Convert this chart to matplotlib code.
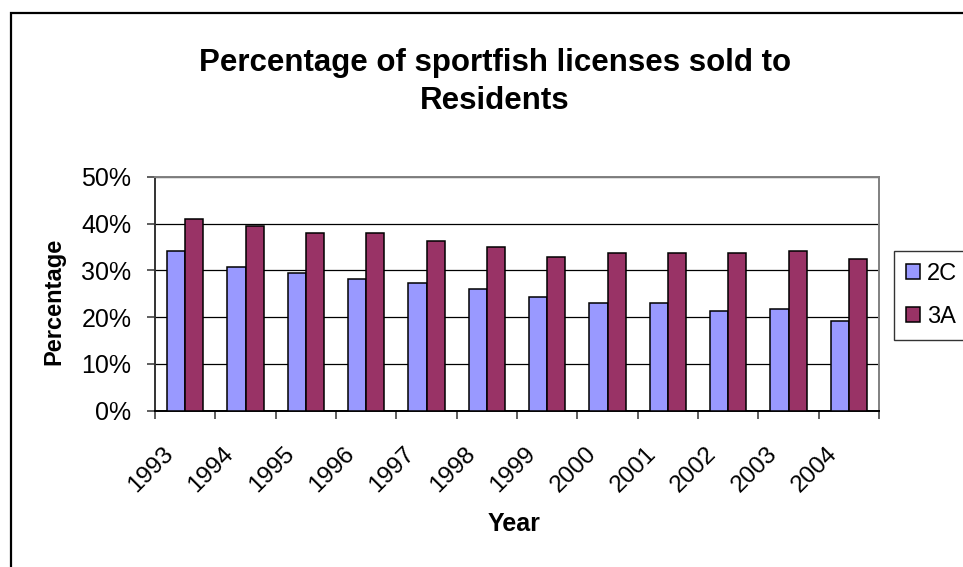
import numpy as np
import matplotlib
matplotlib.use('Agg')
import matplotlib.pyplot as plt
import matplotlib.transforms as mtrans
from matplotlib.patches import Rectangle

# Data
years = ['1993', '1994', '1995', '1996', '1997', '1998',
         '1999', '2000', '2001', '2002', '2003', '2004']
pct_2C = [34.2, 30.7, 29.4, 28.2, 27.3, 26.0, 24.3, 23.0, 23.0, 21.3, 21.7, 19.1]
pct_3A = [40.9, 39.6, 38.0, 38.0, 36.3, 35.0, 32.8, 33.7, 33.7, 33.7, 34.2, 32.4]

plt.rcParams['font.family'] = ['Liberation Sans', 'DejaVu Sans']

W, H = 963, 567
fig = plt.figure(figsize=(W / 100, H / 100), dpi=100)

# plot area in pixel coords -> figure fraction
left, right, top, bottom = 155, 879, 177, 410.5
ax = fig.add_axes([left / W, 1 - bottom / H, (right - left) / W, (bottom - top) / H])

x = np.arange(len(years))
bw = 0.3
ax.bar(x - bw / 2, pct_2C, bw, color='#9999FF', edgecolor='black', linewidth=1.1,
       label='2C', zorder=3)
ax.bar(x + bw / 2, pct_3A, bw, color='#993366', edgecolor='black', linewidth=1.1,
       label='3A', zorder=3)

ax.set_xlim(-0.5, len(years) - 0.5)
ax.set_ylim(0, 50)
ax.set_yticks(np.arange(0, 51, 10))
ax.set_yticklabels(['%d%%' % v for v in range(0, 51, 10)], fontsize=18)
ax.yaxis.grid(True, color='black', linewidth=0.9, zorder=0)
ax.set_axisbelow(True)

# x ticks at category boundaries, labels at category centres
ax.set_xticks(np.arange(-0.5, len(years) - 0.4, 1))
ax.set_xticklabels([])
ax.set_xticks(x, minor=True)
ax.set_xticklabels(years, minor=True, fontsize=17.5, rotation=45,
                   ha='right', va='center', rotation_mode='anchor')
ax.tick_params(axis='x', which='minor', length=0, pad=29)
ax.tick_params(axis='x', which='major', length=6, width=1.1, direction='out', color='#333333')
ax.tick_params(axis='y', length=6, width=1.1, direction='out', pad=11, color='#333333')
shift = mtrans.ScaledTranslation(-15 / 100, 0, fig.dpi_scale_trans)
for lab in ax.get_xticklabels(minor=True):
    lab.set_transform(lab.get_transform() + shift)

for side in ['top', 'right']:
    ax.spines[side].set_color('#808080')
    ax.spines[side].set_linewidth(1.4)
ax.spines['left'].set_color('#333333')
ax.spines['left'].set_linewidth(1.4)
ax.spines['bottom'].set_color('black')
ax.spines['bottom'].set_linewidth(1.4)

# title and axis labels
fig.text(495 / W, 1 - 82 / H, 'Percentage of sportfish licenses sold to\nResidents',
         ha='center', va='center', fontsize=22.5, fontweight='bold', linespacing=1.39)
fig.text(54 / W, 1 - 301 / H, 'Percentage', rotation=90, ha='center', va='center',
         fontsize=17, fontweight='bold')
fig.text(514 / W, 1 - 524 / H, 'Year', ha='center', va='center',
         fontsize=18, fontweight='bold')

leg = fig.legend(loc='upper left', bbox_to_anchor=(894 / W, 1 - 251 / H),
                 bbox_transform=fig.transFigure, borderaxespad=0, fontsize=17,
                 handlelength=0.6, handleheight=0.6, handletextpad=0.3,
                 borderpad=0.5, labelspacing=0.9, fancybox=False, frameon=True)
leg.get_frame().set_edgecolor('black')
leg.get_frame().set_linewidth(1.0)

# outer chart border (right and bottom edges fall outside the image)
fig.patches.append(Rectangle((11 / W, -0.1), 1.2, 1.1 - 13 / H, transform=fig.transFigure,
                             fill=False, edgecolor='black', linewidth=1.6))

fig.savefig('out.png', dpi=100)
